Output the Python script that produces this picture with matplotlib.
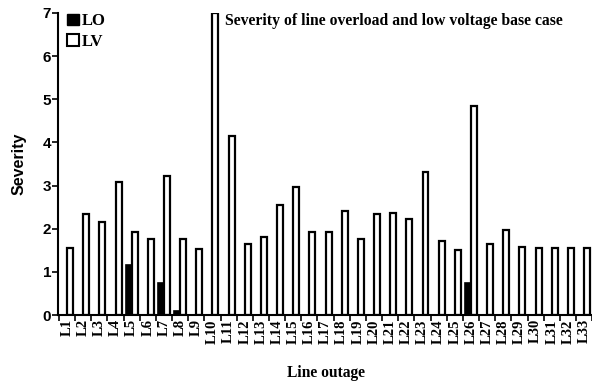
import numpy as np
import matplotlib
matplotlib.use("Agg")
import matplotlib.pyplot as plt
from matplotlib.patches import Patch

plt.rcParams['font.family'] = ['Liberation Serif', 'DejaVu Serif']
plt.rcParams['font.weight'] = 'bold'

# data
lines = ['L%d' % i for i in range(1, 34)]
lv = [1.55, 2.34, 2.15, 3.09, 1.92, 1.76, 3.21, 1.76, 1.52, 7.0,
      4.15, 1.65, 1.81, 2.54, 2.96, 1.92, 1.92, 2.41, 1.76, 2.34,
      2.37, 2.23, 3.32, 1.72, 1.50, 4.85, 1.65, 1.97, 1.58, 1.56,
      1.56, 1.55, 1.56]
lo = [0, 0, 0, 0, 1.17, 0, 0.75, 0.10, 0, 0,
      0, 0, 0, 0, 0, 0, 0, 0, 0, 0,
      0, 0, 0, 0, 0, 0.75, 0, 0, 0, 0,
      0, 0, 0]

fig = plt.figure(figsize=(5.92, 3.83), dpi=100)
ax = fig.add_axes([0.098, 0.1775, 0.905, 0.789])

x = np.arange(1, len(lines) + 1)
w = 0.37
ax.bar(x - w / 2, lo, width=w, color='black', edgecolor='black', linewidth=1.2)
ax.bar(x + w / 2, lv, width=w, color='white', edgecolor='black', linewidth=1.6)

ax.set_xlim(0.44, 33.6)
ax.set_ylim(0, 7)
ax.set_yticks(range(8))
ax.set_xticks(x)
ax.set_xticklabels(lines, rotation=90, fontsize=10.5, fontweight='bold')
ax.tick_params(axis='x', length=0, pad=3)
ax.set_xticks(np.arange(0.5, 34, 1), minor=True)
ax.tick_params(axis='x', which='minor', length=4, width=1.2, direction='out')
ax.tick_params(axis='y', length=4, width=1.2, labelsize=11, pad=1)
for t in ax.get_yticklabels():
    t.set_fontweight('bold')
    t.set_family('Liberation Sans')

for s in ['top', 'right']:
    ax.spines[s].set_visible(False)
for s in ['left', 'bottom']:
    ax.spines[s].set_linewidth(1.5)

ax.set_ylabel('Severity', fontsize=11.5, fontweight='bold', family='Liberation Sans')
ax.yaxis.set_label_coords(-0.058, 0.5)
ax.set_xlabel('Line outage', fontsize=11.2, fontweight='bold')
ax.xaxis.set_label_coords(0.5, -0.165)

ax.text(10.75, 7.0, 'Severity of line overload and low voltage base case',
        fontsize=11.3, fontweight='bold', va='top', ha='left')

handles = [Patch(facecolor='black', edgecolor='black', label='LO'),
           Patch(facecolor='white', edgecolor='black', linewidth=1.5, label='LV')]
ax.legend(handles=handles, loc='upper left', bbox_to_anchor=(0.005, 1.02),
          frameon=False, fontsize=12, handlelength=0.7, handleheight=0.7,
          handletextpad=0.15, labelspacing=0.25, borderaxespad=0)

fig.savefig('out.png', dpi=100)
